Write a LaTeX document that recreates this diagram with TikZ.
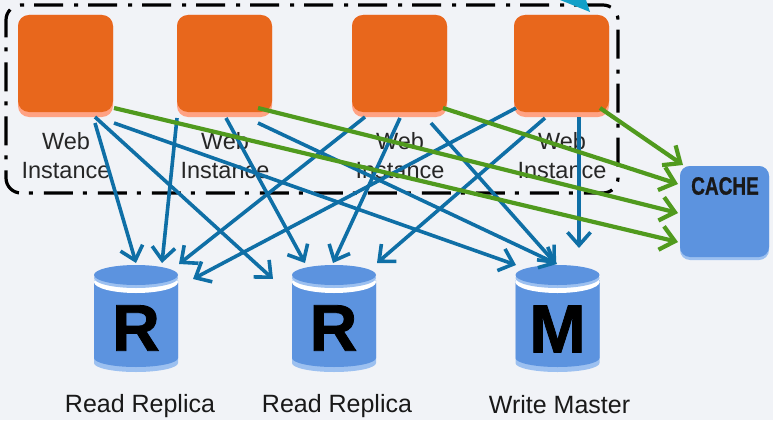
\documentclass[tikz,border=0pt]{standalone}
\usepackage{fontspec}
\setmainfont{Liberation Sans}
\newfontfamily\heavyfont[FakeBold=1.2]{Liberation Sans Bold}
\usetikzlibrary{arrows.meta}
\definecolor{bgc}{HTML}{F1F3F7}
\definecolor{orangec}{HTML}{E8671C}
\definecolor{orangel}{HTML}{FFA283}
\definecolor{dbblue}{HTML}{5C93DF}
\definecolor{dblight}{HTML}{9CC0F0}
\definecolor{linkblue}{HTML}{0F6FA6}
\definecolor{linkgreen}{HTML}{509A1E}
\definecolor{stubc}{HTML}{12A0C8}
\tikzset{
  x=1pt,y=-1pt,
  webbase/.style={fill=orangel,rounded corners=11pt,minimum width=95pt,minimum height=102pt,inner sep=0pt},
  webtop/.style={fill=orangec,rounded corners=11pt,minimum width=95pt,minimum height=97pt,inner sep=0pt},
  weblabel/.style={font=\fontsize{23.5}{29.5}\selectfont,text=black!85,align=center,inner sep=0pt},
  dblabel/.style={font=\fontsize{25}{30}\selectfont,text=black!90,inner sep=0pt},
  dbletter/.style={font=\fontsize{66}{66}\heavyfont,text=black,inner sep=0pt},
  bluelink/.style={draw=linkblue,line width=3.6pt,-{Straight Barb[length=13pt,width=23pt,line width=3.6pt]}},
  greenlink/.style={draw=linkgreen,line width=4.2pt,-{Straight Barb[length=14pt,width=24pt,line width=4.2pt]}},
  groupbox/.style={draw=black,line width=3.2pt,rounded corners=15pt,dash pattern=on 29pt off 10pt on 4pt off 11pt},
  pics/cyl/.style={code={
    \fill[dblight] (-42,5) -- (42,5) -- (42,88) arc[start angle=0,end angle=180,x radius=42,y radius=9] -- cycle;
    \fill[dbblue] (-42,8) -- (42,8) -- (42,83) arc[start angle=0,end angle=180,x radius=42,y radius=9] -- cycle;
    \fill[white] (0,7) ellipse[x radius=42,y radius=11];
    \fill[dblight] (0,3) ellipse[x radius=42,y radius=10];
    \fill[dbblue] (0,0) ellipse[x radius=42,y radius=10];
  }}
}
\begin{document}
\begin{tikzpicture}
\useasboundingbox (0,0) rectangle (773,420);
\fill[bgc] (0,0) rectangle (773,420);

% group outline
\node[groupbox,minimum width=612pt,minimum height=188pt,inner sep=0pt] (group) at (312,99) {};
\fill[stubc] (560,0) -- (590,12) -- (586,0) -- cycle;

% web instances
\foreach \n/\cx/\lx in {1/65.5/66,2/224.5/225,3/399.5/400,4/561.5/562}{
  \node[webbase] (w\n base) at (\cx,66) {};
  \node[webtop] (w\n) at (\cx,63.5) {};
  \node[weblabel,anchor=north] (l\n) at (\lx,132) {Web\\Instance};
}

% databases
\path (136,275) pic {cyl};
\path (334,275) pic {cyl};
\path (557.5,275) pic {cyl};
\node[dbletter] (r1) at (136,328) {R};
\node[dbletter] (r2) at (333.5,328) {R};
\node[dbletter,font=\fontsize{68}{68}\heavyfont] (m) at (557.5,329) {M};
\node[dblabel] (lr1) at (140,406) {Read Replica};
\node[dblabel] (lr2) at (337,406) {Read Replica};
\node[dblabel] (lm) at (559.5,405) {Write Master};

% cache
\node[fill=dblight,rounded corners=10pt,minimum width=89pt,minimum height=94pt,inner sep=0pt] (cachebase) at (724.5,213) {};
\node[fill=dbblue,rounded corners=10pt,minimum width=89pt,minimum height=91pt,inner sep=0pt] (cachebox) at (724.5,211.5) {};
\node[font=\fontsize{25}{25}\heavyfont,text=black!90,inner sep=0pt] (cache) at (725,186) {\scalebox{.76}[1]{CACHE}};

% connector ends
\foreach \name/\px/\py in {
  a1/95/123,a2/95/117,a3/114/123,
  b1/177/118,b2/226/118,b3/258/123,
  c1/365/117,c2/400/118,c3/431/123,
  d1/516/108,d2/545/118,d3/579/117,
  g1/114/108,g2/258/108,g3/443/108,g4/600/108,
  tr1a/136/263,tr1b/162/263,tr1c/179/264,tr1d/193/279,
  tr2a/273/279,tr2b/305/263,tr2c/333/263,tr2d/377/263,
  tma/516/265,tmb/557/264,tmc/556/264,tmd/579/248,
  tca/683/165,tcb/678/184,tcc/678/213,tcd/678/242}{
  \coordinate (\name) at (\px,\py);
}

% blue links
\draw[bluelink] (a1) -- (tr1a);
\draw[bluelink] (a2) -- (tr2a);
\draw[bluelink] (a3) -- (tma);
\draw[bluelink] (b1) -- (tr1b);
\draw[bluelink] (b2) -- (tr2b);
\draw[bluelink] (b3) -- (tmb);
\draw[bluelink] (c1) -- (tr1c);
\draw[bluelink] (c2) -- (tr2c);
\draw[bluelink] (c3) -- (tmc);
\draw[bluelink] (d1) -- (tr1d);
\draw[bluelink] (d2) -- (tr2d);
\draw[bluelink] (d3) -- (tmd);

% green links
\draw[greenlink] (g1) -- (tcd);
\draw[greenlink] (g2) -- (tcc);
\draw[greenlink] (g3) -- (tcb);
\draw[greenlink] (g4) -- (tca);
\end{tikzpicture}
\end{document}
